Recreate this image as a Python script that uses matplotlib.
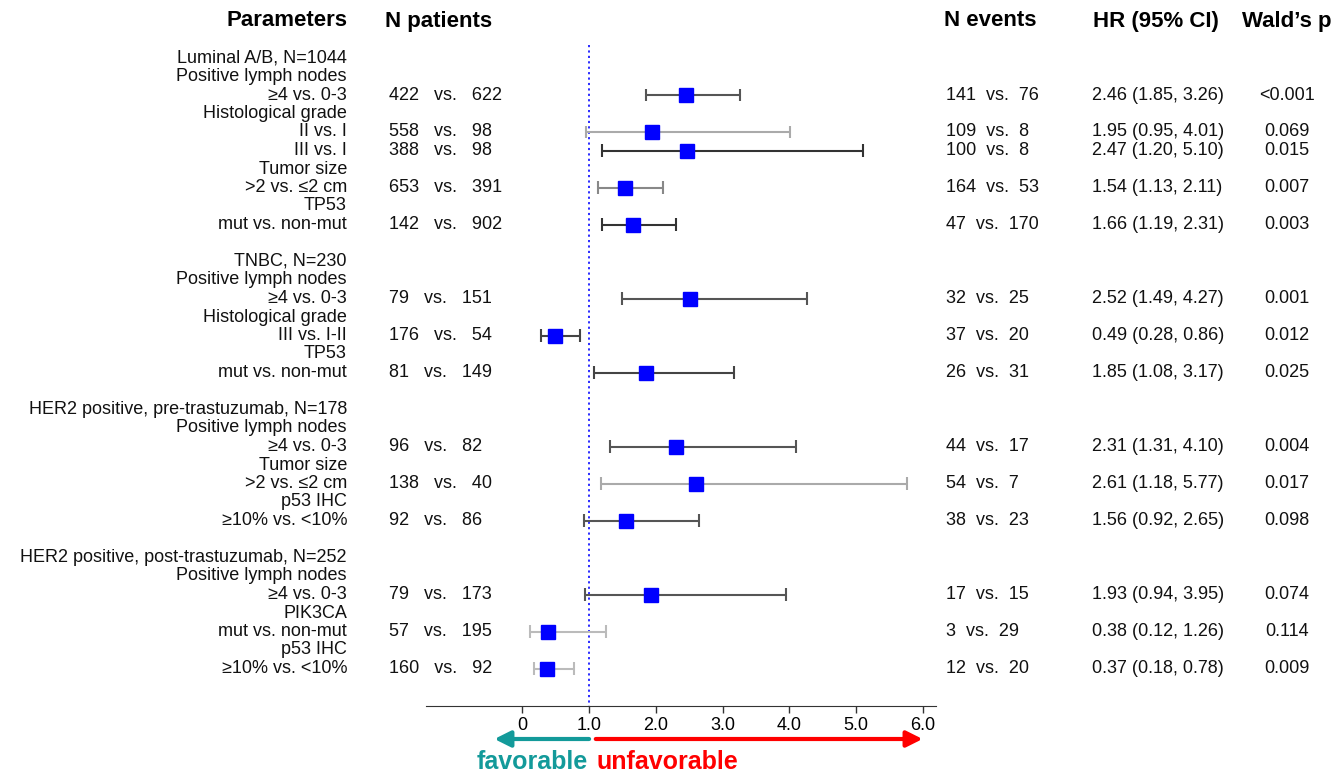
import numpy as np
import matplotlib.pyplot as plt
from matplotlib.transforms import blended_transform_factory

plt.rcParams["font.family"] = ["Liberation Sans", "DejaVu Sans"]

# === Data ===
groups = [
    "Luminal A/B, N=1044",
    "TNBC, N=230",
    "HER2 positive, pre-trastuzumab, N=178",
    "HER2 positive, post-trastuzumab, N=252",
]
# variable name and its comparisons, per group
variables = [
    [("Positive lymph nodes", ["≥4 vs. 0-3"]),
     ("Histological grade", ["II vs. I", "III vs. I"]),
     ("Tumor size", [">2 vs. ≤2 cm"]),
     ("TP53", ["mut vs. non-mut"])],
    [("Positive lymph nodes", ["≥4 vs. 0-3"]),
     ("Histological grade", ["III vs. I-II"]),
     ("TP53", ["mut vs. non-mut"])],
    [("Positive lymph nodes", ["≥4 vs. 0-3"]),
     ("Tumor size", [">2 vs. ≤2 cm"]),
     ("p53 IHC", ["≥10% vs. <10%"])],
    [("Positive lymph nodes", ["≥4 vs. 0-3"]),
     ("PIK3CA", ["mut vs. non-mut"]),
     ("p53 IHC", ["≥10% vs. <10%"])],
]

patients_a = [422, 558, 388, 653, 142, 79, 176, 81, 96, 138, 92, 79, 57, 160]
patients_b = [622, 98, 98, 391, 902, 151, 54, 149, 82, 40, 86, 173, 195, 92]
events_a = [141, 109, 100, 164, 47, 32, 37, 26, 44, 54, 38, 17, 3, 12]
events_b = [76, 8, 8, 53, 170, 25, 20, 31, 17, 7, 23, 15, 29, 20]
hr = [2.46, 1.95, 2.47, 1.54, 1.66, 2.52, 0.49, 1.85, 2.31, 2.61, 1.56, 1.93, 0.38, 0.37]
ci_low = [1.85, 0.95, 1.20, 1.13, 1.19, 1.49, 0.28, 1.08, 1.31, 1.18, 0.92, 0.94, 0.12, 0.18]
ci_high = [3.26, 4.01, 5.10, 2.11, 2.31, 4.27, 0.86, 3.17, 4.10, 5.77, 2.65, 3.95, 1.26, 0.78]
wald_p = ["<0.001", "0.069", "0.015", "0.007", "0.003",
          "0.001", "0.012", "0.025",
          "0.004", "0.017", "0.098",
          "0.074", "0.114", "0.009"]

xticks = [0, 1, 2, 3, 4, 5, 6]
xtick_labels = ["0", "1.0", "2.0", "3.0", "4.0", "5.0", "6.0"]

# line shade of each CI
ci_colors = ["#555555", "#aaaaaa", "#333333", "#888888", "#333333",
             "#555555", "#444444", "#444444",
             "#555555", "#aaaaaa", "#555555",
             "#555555", "#bbbbbb", "#bbbbbb"]

teal = "#139a9a"
red = "#ff0000"

# === Row layout ===
label_rows = []
data_rows = []
row = 0
for g, name in enumerate(groups):
    label_rows.append((row, name))
    row += 1
    for var, comps in variables[g]:
        label_rows.append((row, var))
        row += 1
        for c in comps:
            label_rows.append((row, c))
            data_rows.append(row)
            row += 1
    row += 1  # blank line between groups
data_rows = np.array(data_rows)

# === Figure / axes geometry (pixels) ===
W, H = 1334, 774
fig = plt.figure(figsize=(W / 100, H / 100), dpi=100)
ax_left, ax_right, ax_bottom = 426, 936, 706
ax = fig.add_axes([ax_left / W, (H - ax_bottom) / H, (ax_right - ax_left) / W, ax_bottom / H])
x0_px, px_per_unit = 522.4, 66.7
ax.set_xlim((ax_left - x0_px) / px_per_unit, (ax_right - x0_px) / px_per_unit)
row0_px, row_px = 58, 18.5
ax.set_ylim((ax_bottom - row0_px) / row_px, -row0_px / row_px)

for s in ["top", "left", "right"]:
    ax.spines[s].set_visible(False)
ax.spines["bottom"].set_color("#333333")
ax.set_yticks([])
ax.set_xticks(xticks)
ax.set_xticklabels(xtick_labels, fontsize=13)
ax.tick_params(axis="x", length=5, width=1, color="#333333", pad=3)

# reference line at HR = 1
ax.vlines(1, (45 - row0_px) / row_px, (ax_bottom - row0_px) / row_px,
          color="#1a1aff", linestyle=(0, (1.2, 1.8)), lw=1.3)

# === CIs and point estimates ===
cap = 0.33
ax.hlines(data_rows, ci_low, ci_high, colors=ci_colors, lw=1.5, zorder=2)
ax.vlines(ci_low, data_rows - cap, data_rows + cap, colors=ci_colors, lw=1.5, zorder=2)
ax.vlines(ci_high, data_rows - cap, data_rows + cap, colors=ci_colors, lw=1.5, zorder=2)
ax.plot(hr, data_rows, "s", color="#0000ff", markersize=10, zorder=3)

# === Text columns ===
tr = blended_transform_factory(fig.transFigure, ax.transData)
head_row = (21 - row0_px) / row_px
hfont = dict(fontsize=16, fontweight="bold", va="center", transform=tr)
ax.text(347 / W, head_row, "Parameters", ha="right", **hfont)
ax.text(385 / W, head_row, "N patients", ha="left", **hfont)
ax.text(944 / W, head_row, "N events", ha="left", **hfont)
ax.text(1093 / W, head_row, "HR (95% CI)", ha="left", **hfont)
ax.text(1242 / W, head_row, "Wald’s p", ha="left", **hfont)

tfont = dict(fontsize=13, va="center", transform=tr, color="#111111")
for r, txt in label_rows:
    ax.text(347 / W, r, txt, ha="right", **tfont)

for i, r in enumerate(data_rows):
    ax.text(389 / W, r, f"{patients_a[i]}   vs.   {patients_b[i]}", ha="left", **tfont)
    ax.text(946 / W, r, f"{events_a[i]}  vs.  {events_b[i]}", ha="left", **tfont)
    ax.text(1092 / W, r, f"{hr[i]:.2f} ({ci_low[i]:.2f}, {ci_high[i]:.2f})", ha="left", **tfont)
    ax.text(1287 / W, r, wald_p[i], ha="center", **tfont)

# === Direction arrows ===
arrow_y = H - 739
ax.annotate("", xy=(-0.42, arrow_y), xytext=(1.0, arrow_y),
            xycoords=("data", "figure pixels"), textcoords=("data", "figure pixels"),
            arrowprops=dict(arrowstyle="-|>", color=teal, lw=3, mutation_scale=24,
                            shrinkA=0, shrinkB=0))
ax.annotate("", xy=(6.0, arrow_y), xytext=(1.1, arrow_y),
            xycoords=("data", "figure pixels"), textcoords=("data", "figure pixels"),
            arrowprops=dict(arrowstyle="-|>", color=red, lw=3, mutation_scale=24,
                            shrinkA=0, shrinkB=0))
fig.text(588 / W, (H - 762) / H, "favorable", ha="right", va="center",
         fontsize=18, fontweight="bold", color=teal)
fig.text(597 / W, (H - 762) / H, "unfavorable", ha="left", va="center",
         fontsize=18, fontweight="bold", color=red)

fig.savefig("out.png", dpi=100)
